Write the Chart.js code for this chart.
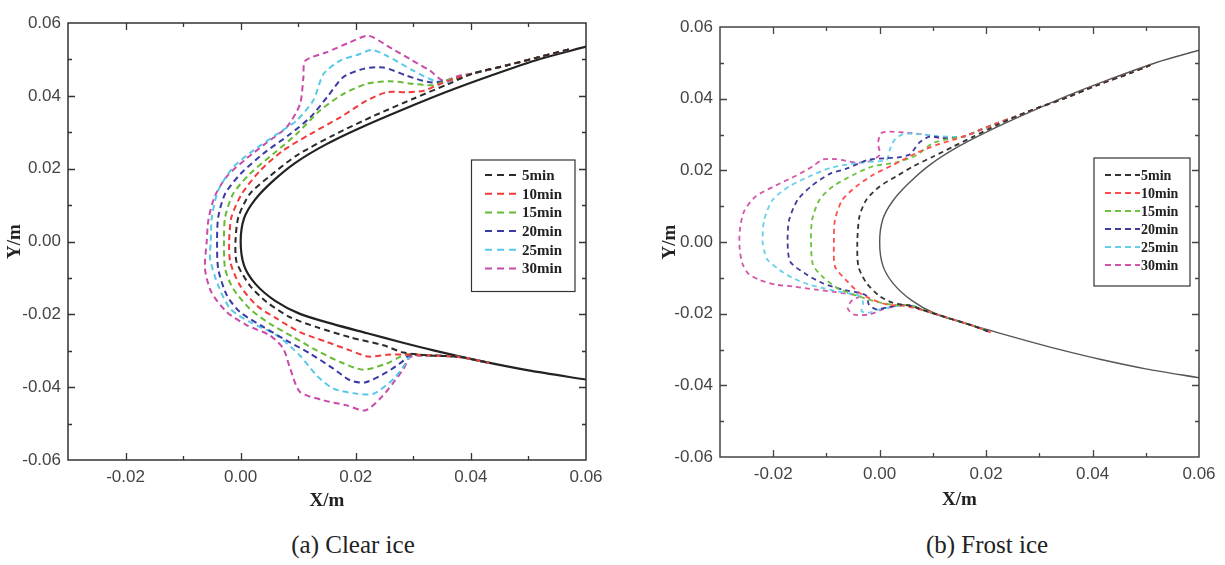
<!DOCTYPE html>
<html>
<head>
<meta charset="utf-8">
<script src="https://cdn.jsdelivr.net/npm/chart.js@4.4.1/dist/chart.umd.min.js"></script>
<style>
  body { margin: 0; background: #fff; }
  #wrap { position: relative; width: 1225px; height: 565px; overflow: hidden; }
  canvas { position: absolute; top: 0; }
  #c1 { left: 0; }
  #c2 { left: 612px; }
  .cap { position: absolute; top: 531px; font-family: "Liberation Serif", "Times New Roman", serif;
         font-size: 25px; color: #222; transform: translateX(-50%); white-space: nowrap; }
</style>
</head>
<body>
<div id="wrap">
  <canvas id="c1" width="612" height="525"></canvas>
  <canvas id="c2" width="613" height="525"></canvas>
  <div class="cap" style="left:353px">(a) Clear ice</div>
  <div class="cap" style="left:987px">(b) Frost ice</div>
</div>
<script>
// axes
const xTicks = [-0.02, 0.00, 0.02, 0.04, 0.06];
const yTicks = [-0.06, -0.04, -0.02, 0.00, 0.02, 0.04, 0.06];
const seriesLabels = ['5min', '10min', '15min', '20min', '25min', '30min'];

// clean leading edge (same in both panels)
const airfoil = [
  [0.060, 0.0535], [0.052, 0.0501], [0.0434, 0.0455], [0.0358, 0.0411], [0.0283, 0.0363],
  [0.0215, 0.0317], [0.015, 0.0268], [0.0095, 0.0216], [0.0054, 0.0163], [0.0024, 0.0113],
  [0.0006, 0.0064], [0.0, 0.0], [0.0006, -0.0066], [0.0026, -0.0117], [0.006, -0.0163],
  [0.0102, -0.0198], [0.0161, -0.0227], [0.022, -0.0252], [0.0277, -0.0276], [0.0335, -0.0299],
  [0.0416, -0.0328], [0.050, -0.0354], [0.060, -0.0379]
];

// (a) clear ice
const clear5 = [[0.057,0.0527],[0.052,0.0507],[0.0463,0.0484],[0.0405,0.0462],[0.036,0.0432],[0.030,0.0392],[0.023,0.0344],[0.016,0.0291],[0.0097,0.0236],[0.0051,0.0180],[0.0016,0.0131],[-0.0004,0.0067],[-0.0009,0],[-0.0007,-0.0057],[0.0016,-0.0121],[0.0045,-0.0166],[0.0086,-0.0208],[0.0132,-0.0235],[0.019,-0.0263],[0.0248,-0.0285],[0.0283,-0.0305],[0.033,-0.0313],[0.038,-0.0317],[0.0431,-0.0333]];
const clear10 = [[0.057,0.0527],[0.052,0.0507],[0.0463,0.0484],[0.0405,0.0462],[0.037,0.0446],[0.0347,0.0433],[0.0318,0.0414],[0.0289,0.041],[0.0254,0.041],[0.0219,0.0387],[0.0173,0.0341],[0.0121,0.0295],[0.0074,0.025],[0.0034,0.0195],[0.0002,0.0131],[-0.0016,0.0067],[-0.002,0],[-0.0018,-0.0057],[-0.0001,-0.0121],[0.0028,-0.0176],[0.0063,-0.0212],[0.0103,-0.0249],[0.015,-0.0276],[0.019,-0.0299],[0.0222,-0.0316],[0.0255,-0.0311],[0.0283,-0.031],[0.033,-0.0313],[0.038,-0.0317],[0.0431,-0.0333]];
const clear15 = [[0.057,0.0527],[0.052,0.0507],[0.0463,0.0484],[0.0405,0.0462],[0.0381,0.0451],[0.0358,0.0442],[0.0335,0.0429],[0.030,0.0433],[0.0259,0.044],[0.0219,0.0433],[0.0178,0.0405],[0.0138,0.036],[0.0097,0.0295],[0.0057,0.0241],[0.0016,0.0186],[-0.0013,0.0131],[-0.0027,0.0067],[-0.0029,0],[-0.0027,-0.0075],[-0.0013,-0.013],[0.0016,-0.0185],[0.0051,-0.0226],[0.0092,-0.0263],[0.0132,-0.0299],[0.0173,-0.0331],[0.0213,-0.0352],[0.0254,-0.0335],[0.0277,-0.0317],[0.029,-0.031],[0.033,-0.0313],[0.038,-0.0317],[0.0431,-0.0333]];
const clear20 = [[0.057,0.0527],[0.052,0.0507],[0.0463,0.0484],[0.0405,0.0462],[0.0358,0.0442],[0.0329,0.0437],[0.0289,0.0455],[0.0248,0.0478],[0.0213,0.0474],[0.0178,0.0451],[0.015,0.0396],[0.0121,0.0341],[0.0086,0.0295],[0.0039,0.0241],[0.0,0.0186],[-0.0027,0.0131],[-0.0039,0.0067],[-0.0041,0],[-0.0039,-0.0075],[-0.0024,-0.0148],[-0.0001,-0.0194],[0.004,-0.0235],[0.008,-0.0272],[0.0121,-0.0308],[0.0161,-0.0349],[0.019,-0.0381],[0.0216,-0.0387],[0.0254,-0.0359],[0.0283,-0.0327],[0.0292,-0.0313],[0.033,-0.0313],[0.038,-0.0317],[0.0431,-0.0333]];
const clear25 = [[0.057,0.0527],[0.052,0.0507],[0.0463,0.0484],[0.0405,0.0462],[0.0381,0.0452],[0.0358,0.0437],[0.0335,0.0442],[0.030,0.0469],[0.0254,0.051],[0.0228,0.0526],[0.0202,0.0512],[0.0173,0.0497],[0.0144,0.046],[0.0126,0.0387],[0.0097,0.0332],[0.0063,0.0295],[0.0022,0.025],[-0.0013,0.0204],[-0.0039,0.014],[-0.005,0.0067],[-0.0052,0],[-0.0053,-0.0048],[-0.0039,-0.0121],[-0.0018,-0.0185],[0.0016,-0.0221],[0.0063,-0.0258],[0.0103,-0.0313],[0.0132,-0.0368],[0.0161,-0.0404],[0.0202,-0.0418],[0.0231,-0.0418],[0.0266,-0.0377],[0.0286,-0.0336],[0.0295,-0.0313],[0.033,-0.0313],[0.038,-0.0317],[0.0431,-0.0333]];
const clear30 = [[0.057,0.0527],[0.052,0.0507],[0.0463,0.0484],[0.0405,0.0462],[0.0381,0.0456],[0.0352,0.0442],[0.0329,0.0469],[0.0294,0.0501],[0.0254,0.0538],[0.0222,0.0565],[0.019,0.0547],[0.015,0.052],[0.0112,0.0496],[0.0109,0.0451],[0.0103,0.0377],[0.008,0.0314],[0.0045,0.0271],[0.0011,0.0229],[-0.0024,0.0179],[-0.0045,0.0124],[-0.0056,0.006],[-0.0059,0],[-0.0062,-0.0075],[-0.0051,-0.0139],[-0.0024,-0.0194],[0.0011,-0.023],[0.0051,-0.0258],[0.0074,-0.0294],[0.0086,-0.0349],[0.0103,-0.0413],[0.0144,-0.0436],[0.0184,-0.045],[0.0216,-0.0464],[0.0242,-0.0432],[0.0266,-0.0386],[0.0283,-0.035],[0.0295,-0.0317],[0.033,-0.0313],[0.038,-0.0317],[0.0431,-0.0333]];

// (b) frost ice
const frost5 = [[0.0509,0.0494],[0.0472,0.0472],[0.0409,0.0438],[0.0346,0.04],[0.0302,0.0377],[0.0264,0.0355],[0.022,0.0326],[0.0176,0.0294],[0.0138,0.0266],[0.010,0.0238],[0.0063,0.0211],[0.0031,0.0183],[0.0,0.0155],[-0.0025,0.0118],[-0.0038,0.0071],[-0.0042,0],[-0.004,-0.0068],[-0.0025,-0.0114],[0.0,-0.0151],[0.0025,-0.017],[0.0057,-0.0178],[0.0088,-0.0193],[0.0126,-0.0211],[0.0176,-0.0234],[0.0205,-0.025]];
const frost10 = [[0.0509,0.0494],[0.0472,0.0472],[0.0409,0.0438],[0.0346,0.04],[0.0302,0.0377],[0.0264,0.0355],[0.022,0.0331],[0.0189,0.0313],[0.0176,0.0304],[0.0138,0.0285],[0.0107,0.0271],[0.0069,0.0248],[0.0025,0.0215],[-0.0013,0.0187],[-0.0044,0.0155],[-0.007,0.0118],[-0.0084,0.0062],[-0.0086,0],[-0.0084,-0.0068],[-0.0064,-0.0105],[-0.0038,-0.0142],[-0.001,-0.0163],[0.0015,-0.0175],[0.0045,-0.0178],[0.0088,-0.0193],[0.0126,-0.0211],[0.0176,-0.0234],[0.021,-0.0253]];
const frost15 = [[0.0509,0.0494],[0.0472,0.0472],[0.0409,0.0438],[0.0346,0.04],[0.0302,0.0377],[0.0264,0.0355],[0.022,0.0331],[0.0189,0.0313],[0.0157,0.0294],[0.0138,0.029],[0.010,0.0276],[0.0069,0.0242],[0.0031,0.0222],[-0.0013,0.0211],[-0.005,0.0187],[-0.0088,0.0155],[-0.0113,0.0118],[-0.0127,0.0062],[-0.0129,0],[-0.0125,-0.0065],[-0.0105,-0.01],[-0.008,-0.0128],[-0.005,-0.0146],[-0.0022,-0.016],[0.0003,-0.017],[0.0031,-0.0176],[0.0057,-0.0176],[0.0088,-0.0193],[0.0126,-0.0211],[0.0176,-0.0234],[0.0205,-0.025]];
const frost20 = [[0.0509,0.0494],[0.0472,0.0472],[0.0409,0.0438],[0.0346,0.04],[0.0302,0.0377],[0.0264,0.0355],[0.022,0.0331],[0.0189,0.0313],[0.0157,0.0294],[0.0126,0.0289],[0.0094,0.0294],[0.0075,0.0278],[0.0057,0.0245],[0.0035,0.0236],[0.0013,0.0234],[-0.0022,0.0229],[-0.006,0.0206],[-0.0094,0.019],[-0.0129,0.0155],[-0.0154,0.0118],[-0.017,0.0062],[-0.0173,0],[-0.0168,-0.0055],[-0.0138,-0.009],[-0.0107,-0.0115],[-0.007,-0.0133],[-0.0038,-0.0142],[-0.0025,-0.015],[-0.002,-0.0175],[-0.0006,-0.0188],[0.0019,-0.0181],[0.005,-0.0176],[0.0088,-0.0193],[0.0126,-0.0211],[0.0176,-0.0234],[0.0205,-0.025]];
const frost25 = [[0.0509,0.0494],[0.0472,0.0472],[0.0409,0.0438],[0.0346,0.04],[0.0302,0.0377],[0.0264,0.0355],[0.022,0.0331],[0.0189,0.0313],[0.0157,0.0294],[0.0107,0.0296],[0.0075,0.0301],[0.0044,0.0301],[0.0028,0.0285],[0.0019,0.0257],[0.0013,0.0229],[-0.0019,0.0224],[-0.005,0.0219],[-0.0094,0.0206],[-0.0132,0.0183],[-0.017,0.0155],[-0.0201,0.0118],[-0.0217,0.0062],[-0.022,0],[-0.0216,-0.003],[-0.0211,-0.0049],[-0.0189,-0.0077],[-0.0164,-0.01],[-0.0132,-0.0119],[-0.0094,-0.0133],[-0.0063,-0.0142],[-0.0038,-0.015],[-0.0031,-0.017],[-0.0034,-0.0193],[-0.0022,-0.0198],[0.0,-0.0188],[0.0031,-0.0179],[0.0057,-0.0176],[0.0088,-0.0193],[0.0126,-0.0211],[0.0176,-0.0234],[0.0205,-0.025]];
const frost30 = [[0.0509,0.0494],[0.0472,0.0472],[0.0409,0.0438],[0.0346,0.04],[0.0302,0.0377],[0.0264,0.0355],[0.022,0.0331],[0.0189,0.0313],[0.0157,0.0294],[0.0113,0.029],[0.0088,0.0299],[0.005,0.0305],[0.0019,0.0308],[0.0003,0.0304],[-0.0003,0.0276],[0.0,0.0243],[-0.0022,0.0224],[-0.0044,0.0222],[-0.0082,0.0231],[-0.0107,0.023],[-0.0126,0.0211],[-0.0157,0.0185],[-0.0195,0.0158],[-0.0233,0.0127],[-0.0255,0.0085],[-0.0263,0.003],[-0.0263,-0.002],[-0.0258,-0.006],[-0.0247,-0.0088],[-0.0227,-0.0105],[-0.0195,-0.0119],[-0.0164,-0.0124],[-0.0119,-0.0133],[-0.0082,-0.014],[-0.005,-0.0147],[-0.0038,-0.0152],[-0.0052,-0.0163],[-0.006,-0.0185],[-0.0048,-0.0203],[-0.0019,-0.0202],[0.0006,-0.0188],[0.0031,-0.0179],[0.0057,-0.0176],[0.0088,-0.0193],[0.0126,-0.0211],[0.0176,-0.0234],[0.0205,-0.025]];

const sansFont = '"Liberation Sans", Arial, sans-serif';
const serifFont = '"Liberation Serif", "Times New Roman", serif';

const toXY = arr => arr.map(p => ({ x: p[0], y: p[1] }));

// frame with inward ticks on all four sides
const frameTicks = {
    id: 'frameTicks',
    afterDatasetsDraw(chart, args, o) {
        const { ctx, chartArea: a, scales: { x, y } } = chart;
        ctx.save();
        ctx.strokeStyle = o.color;
        ctx.lineWidth = o.width;
        ctx.strokeRect(a.left, a.top, a.width, a.height);
        ctx.lineWidth = 1.3;
        ctx.beginPath();
        for (let i = -2; i <= 5; i++) {
            const px = Math.round(x.getPixelForValue(i / 100)) + 0.5;
            const len = i % 2 === 0 ? 7 : 4;
            ctx.moveTo(px, a.bottom); ctx.lineTo(px, a.bottom - len);
            ctx.moveTo(px, a.top); ctx.lineTo(px, a.top + len);
        }
        for (let i = -5; i <= 5; i++) {
            const py = Math.round(y.getPixelForValue(i / 100)) + 0.5;
            const len = i % 2 === 0 ? 7 : 4;
            ctx.moveTo(a.left, py); ctx.lineTo(a.left + len, py);
            ctx.moveTo(a.right, py); ctx.lineTo(a.right - len, py);
        }
        ctx.stroke();
        ctx.restore();
    }
};

// boxed legend like the original plot
const boxLegend = {
    id: 'boxLegend',
    afterDraw(chart, args, o) {
        const ctx = chart.ctx;
        ctx.save();
        ctx.fillStyle = '#fff';
        ctx.fillRect(o.x, o.y, o.w, o.h);
        ctx.strokeStyle = '#333';
        ctx.lineWidth = 1.2;
        ctx.strokeRect(o.x, o.y, o.w, o.h);
        ctx.font = o.font;
        ctx.textBaseline = 'middle';
        ctx.textAlign = 'left';
        chart.data.datasets.filter(d => d.borderDash).forEach((d, i) => {
            const yy = o.row0 + i * o.rowGap;
            ctx.strokeStyle = d.borderColor;
            ctx.lineWidth = d.borderWidth;
            ctx.setLineDash(o.dash);
            ctx.beginPath();
            ctx.moveTo(o.s0, yy);
            ctx.lineTo(o.s1, yy);
            ctx.stroke();
            ctx.setLineDash([]);
            ctx.fillStyle = '#222';
            ctx.fillText(d.label, o.tx, yy + 1);
        });
        ctx.restore();
    }
};

function makeChart(id, curves, look) {
    const datasets = [{
        label: 'airfoil',
        data: toXY(airfoil),
        borderColor: look.solid,
        borderWidth: look.solidWidth,
        showLine: true, pointRadius: 0, tension: 0.3, order: 10
    }].concat(curves.map((c, i) => ({
        label: seriesLabels[i],
        data: toXY(c),
        borderColor: look.colors[i],
        borderWidth: look.dashWidth,
        borderDash: look.dash,
        showLine: true, pointRadius: 0, tension: 0.25, order: 1
    })));

    return new Chart(document.getElementById(id), {
        type: 'scatter',
        data: { datasets },
        plugins: [frameTicks, boxLegend],
        options: {
            responsive: false,
            animation: false,
            devicePixelRatio: 1,
            events: [],
            layout: { padding: look.padding },
            plugins: {
                legend: { display: false },
                tooltip: { enabled: false },
                frameTicks: { color: look.frame, width: 1.5 },
                boxLegend: look.legend
            },
            scales: {
                x: {
                    type: 'linear', min: -0.03, max: 0.06,
                    afterBuildTicks: s => { s.ticks = xTicks.map(v => ({ value: v })); },
                    afterFit: s => { s.height = look.xAxisH; },
                    grid: { display: false, drawTicks: false },
                    border: { display: false },
                    ticks: {
                        callback: v => v.toFixed(2), color: '#444', padding: 7,
                        maxRotation: 0, autoSkip: false,
                        font: { family: sansFont, size: 17 }
                    },
                    title: {
                        display: true, text: 'X/m', color: '#222',
                        font: { family: serifFont, size: 19, weight: 'bold' },
                        padding: { top: 0, bottom: look.xTitlePad }
                    }
                },
                y: {
                    type: 'linear', min: -0.06, max: 0.06,
                    afterBuildTicks: s => { s.ticks = yTicks.map(v => ({ value: v })); },
                    afterFit: s => { s.width = 68; },
                    grid: { display: false, drawTicks: false },
                    border: { display: false },
                    ticks: {
                        callback: v => v.toFixed(2), color: '#444', padding: 7,
                        autoSkip: false,
                        font: { family: sansFont, size: 17 }
                    },
                    title: {
                        display: true, text: 'Y/m', color: '#222',
                        font: { family: serifFont, size: 19, weight: 'bold' },
                        padding: { top: look.yTitlePad, bottom: 0 }
                    }
                }
            }
        }
    });
}

makeChart('c1', [clear5, clear10, clear15, clear20, clear25, clear30], {
    solid: '#222', solidWidth: 2.2, dashWidth: 2, dash: [6, 4], frame: '#333',
    colors: ['#2b2b2b', '#f23a3a', '#66bb33', '#3b3ba6', '#58c8e8', '#c94aa8'],
    padding: { left: 0, right: 26, top: 23, bottom: 0 },
    xAxisH: 65, xTitlePad: 13, yTitlePad: 4,
    legend: { x: 471.5, y: 160, w: 103.5, h: 131.5, s0: 485, s1: 518, tx: 522,
              row0: 175, rowGap: 18.7, dash: [7, 5], font: 'bold 15px ' + serifFont }
});

makeChart('c2', [frost5, frost10, frost15, frost20, frost25, frost30], {
    solid: '#555', solidWidth: 1.4, dashWidth: 1.8, dash: [5, 4], frame: '#444',
    colors: ['#333333', '#ff4d4d', '#6cc23a', '#3d3d9e', '#66d0ea', '#d455a8'],
    padding: { left: 40, right: 26, top: 27, bottom: 0 },
    xAxisH: 68, xTitlePad: 14, yTitlePad: 7,
    legend: { x: 482, y: 158, w: 96, h: 128, s0: 493, s1: 528, tx: 529,
              row0: 175, rowGap: 18, dash: [6, 4], font: 'bold 14px ' + serifFont }
});
</script>
</body>
</html>
